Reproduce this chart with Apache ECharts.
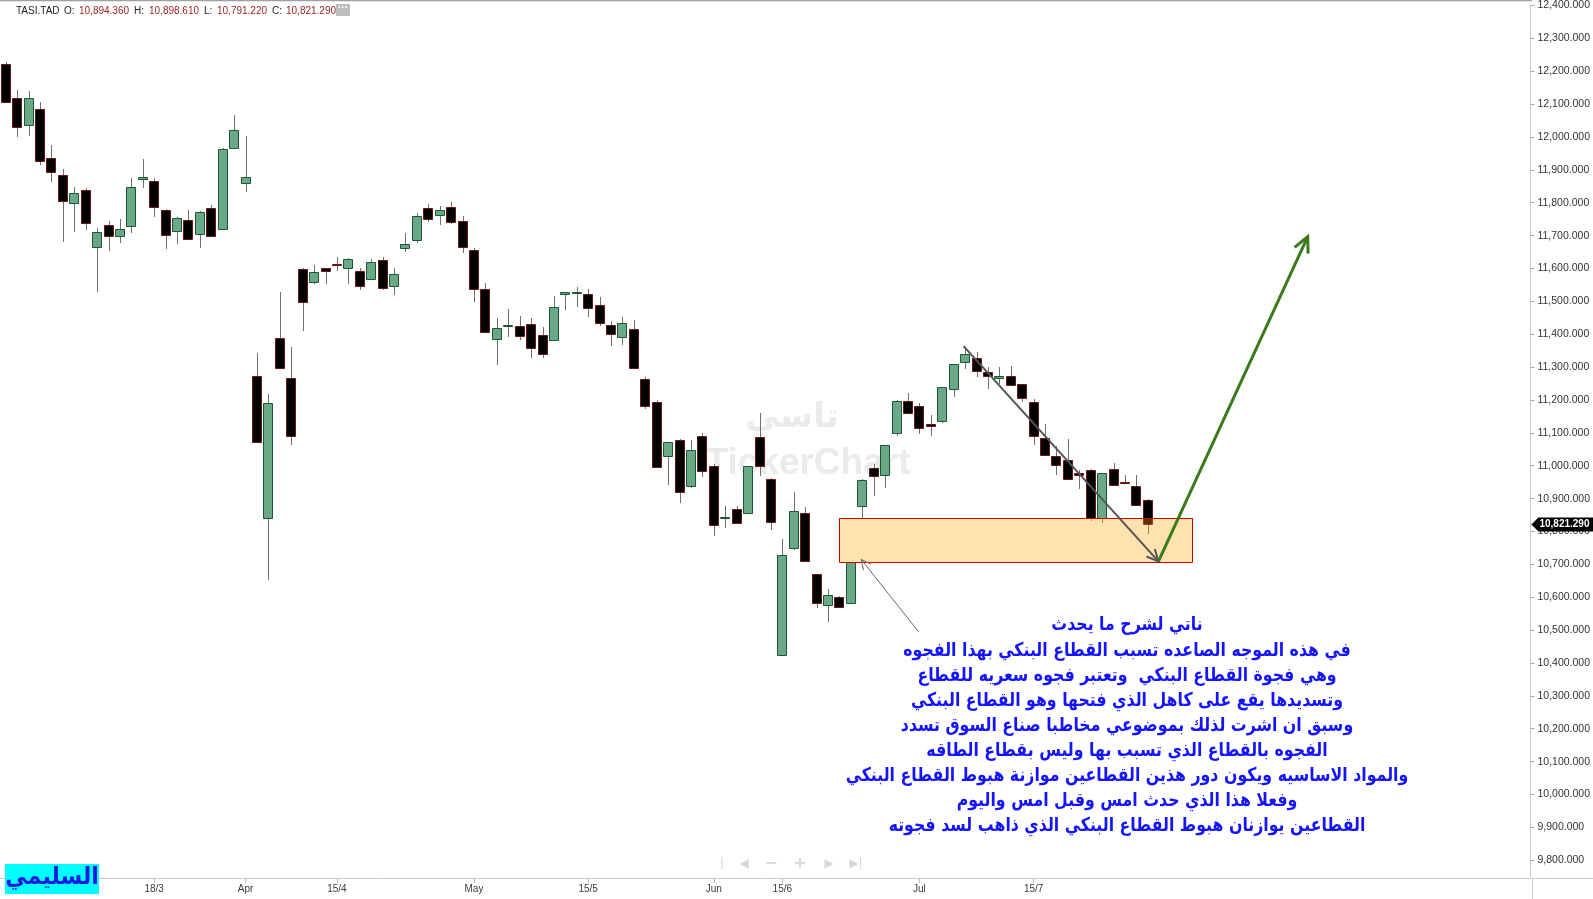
<!DOCTYPE html>
<html><head><meta charset="utf-8">
<script src="https://cdn.jsdelivr.net/npm/echarts@6/dist/echarts.min.js"></script>
<style>html,body{margin:0;padding:0;background:#fff;overflow:hidden}#c{width:1593px;height:899px}</style>
</head><body><div id="c"></div>
<script>
// ---------------- DATA ----------------
const dates = [
'2025-02-27','2025-03-02','2025-03-03','2025-03-04','2025-03-05','2025-03-06','2025-03-09','2025-03-10','2025-03-11','2025-03-12','2025-03-13','2025-03-16','2025-03-17','2025-03-18','2025-03-19','2025-03-20','2025-03-23','2025-03-24','2025-03-25','2025-03-26','2025-03-27',
'2025-04-03','2025-04-06','2025-04-07','2025-04-08','2025-04-09','2025-04-10','2025-04-13','2025-04-14','2025-04-15','2025-04-16','2025-04-17','2025-04-20','2025-04-21','2025-04-22','2025-04-23','2025-04-24','2025-04-27','2025-04-28','2025-04-29','2025-04-30',
'2025-05-01','2025-05-04','2025-05-05','2025-05-06','2025-05-07','2025-05-08','2025-05-11','2025-05-12','2025-05-13','2025-05-14','2025-05-15','2025-05-18','2025-05-19','2025-05-20','2025-05-21','2025-05-22','2025-05-25','2025-05-26','2025-05-27','2025-05-28','2025-05-29',
'2025-06-01','2025-06-02','2025-06-03','2025-06-04','2025-06-11','2025-06-12','2025-06-15','2025-06-16','2025-06-17','2025-06-18','2025-06-19','2025-06-22','2025-06-23','2025-06-24','2025-06-25','2025-06-26','2025-06-29','2025-06-30',
'2025-07-01','2025-07-02','2025-07-03','2025-07-06','2025-07-07','2025-07-08','2025-07-09','2025-07-10','2025-07-13','2025-07-14','2025-07-15','2025-07-16','2025-07-17','2025-07-20','2025-07-21','2025-07-22','2025-07-23','2025-07-24','2025-07-27','2025-07-28','2025-07-29'
];
const opens = [
12222,12119,12038,12086,11935,11884,11799,11838,11666,11733,11699,11730,11873,11866,11778,11714,11748,11705,11784,11720,11968,
11859,11273,10841,11388,11267,11597,11560,11600,11613,11600,11591,11569,11627,11548,11663,11687,11784,11763,11787,11745,
11657,11539,11385,11424,11424,11430,11397,11382,11522,11524,11521,11488,11427,11391,11415,11264,11195,11029,11077,10938,11092,
11000,10842,10869,10856,11086,10959,10425,10750,10855,10670,10576,10601,10582,10878,10992,10971,11101,11198,
11183,11126,11137,11234,11316,11328,11286,11268,11273,11249,11195,11083,11029,11017,10977,10986,10840,10989,10952,10938,10894.36
];
const highs = [
12227,12144,12141,12107,11977,11902,11847,11844,11724,11746,11751,11875,11932,11875,11781,11757,11778,11776,11793,11967,12068,
12002,11344,11219,11528,11361,11600,11612,11603,11636,11633,11603,11630,11636,11600,11708,11769,11796,11790,11802,11760,
11663,11557,11449,11476,11455,11449,11421,11515,11529,11545,11539,11512,11440,11452,11443,11270,11201,11071,11080,11077,11101,
11004,10878,10878,10999,11159,10962,10777,10920,10873,10672,10625,10603,10708,10960,11005,11064,11200,11222,
11192,11153,11241,11311,11362,11346,11301,11301,11304,11250,11204,11126,11059,11080,10986,10990,10979,11008,10971,10971,10898.61
];
const lows = [
12107,12000,12002,11914,11864,11681,11711,11718,11530,11654,11678,11708,11844,11757,11660,11675,11688,11663,11697,11718,11965,
11832,11069,10651,11296,11062,11409,11554,11554,11591,11554,11536,11567,11536,11518,11651,11678,11742,11733,11736,11648,
11497,11404,11307,11391,11382,11328,11328,11380,11473,11482,11452,11424,11364,11367,11296,11174,10993,10941,10887,10932,10965,
10787,10811,10824,10852,10970,10806,10424,10745,10708,10567,10525,10568,10580,10842,10908,10933,11089,11157,
11098,11089,11131,11210,11295,11270,11234,11250,11245,11195,11062,11030,10971,10958,10928,10832,10827,10940,10947,10879,10791.22
];
const closes = [
12107,12029,12119,11926,11893,11805,11829,11739,11712,11699,11721,11847,11877,11787,11702,11754,11690,11772,11699,11965,12020,
11878,11071,11190,11298,11092,11497,11588,11591,11610,11630,11548,11621,11542,11582,11675,11760,11751,11778,11742,11666,
11539,11406,11418,11427,11394,11359,11340,11482,11527,11527,11479,11434,11400,11434,11298,11183,10995,11071,10920,11047,10983,
10820,10845,10826,10998,10999,10830,10727,10862,10710,10582,10607,10570,10706,10958,10968,11062,11198,11159,
11116,11122,11240,11310,11340,11289,11274,11273,11246,11207,11089,11032,11002,10959,10973,10840,10977,10941,10949,10881,10821.29
];
const tickDates = ['2025-03-18','2025-04-03','2025-04-15','2025-05-01','2025-05-15','2025-06-01','2025-06-15','2025-07-01','2025-07-15'];
const tickLabels = ['18/3','Apr','15/4','May','15/5','Jun','15/6','Jul','15/7'];
const priceTicks = [9800,9900,10000,10100,10200,10300,10400,10500,10600,10700,10800,10900,11000,11100,11200,11300,11400,11500,11600,11700,11800,11900,12000,12100,12200,12300,12400];
const emptySlotsAfter = 33;           // blank trading slots to the right of the last bar
const gapZone = [[72.95, 10706], [103.9, 10840]];       // [slot, price] corners of the gap box
const downArrow = [[83.87, 11364], [100.93, 10709]];
const upArrow = [[100.93, 10709], [114.0, 11697]];
const pointerArrow = [[79.93, 10495], [74.9, 10715]];
const noteLines = [
'ناتي لشرح ما يحدث',
'في هذه الموجه الصاعده تسبب القطاع البنكي بهذا الفجوه',
'وهي فجوة القطاع البنكي  وتعتبر فجوه سعريه للقطاع',
'وتسديدها يقع على كاهل الذي فتحها وهو القطاع البنكي',
'وسبق ان اشرت لذلك بموضوعي مخاطبا صناع السوق تسدد',
'الفجوه بالقطاع الذي تسبب بها وليس بقطاع الطاقه',
'والمواد الاساسيه ويكون دور هذين القطاعين موازنة هبوط القطاع البنكي',
'وفعلا هذا الذي حدث امس وقبل امس واليوم',
'القطاعين يوازنان هبوط القطاع البنكي الذي ذاهب لسد فجوته'
];
const symbol = 'TASI.TAD';
const author = 'السليمي';

// ---------------- CHART ----------------
const fmt = v => Number(v).toLocaleString('en-US', {minimumFractionDigits: 3, maximumFractionDigits: 3});
const tickIdx = tickDates.map(d => dates.indexOf(d));
const last = dates.length - 1;
const candleData = dates.map((d, i) => [i, opens[i], closes[i], lows[i], highs[i]]);

const chart = echarts.init(document.getElementById('c'), null, {renderer: 'canvas'});

function arrowShape(api, pts, color, width, head) {
  const a = api.coord(pts[0]), b = api.coord(pts[1]);
  const ang = Math.atan2(b[1] - a[1], b[0] - a[0]);
  const s = 0.45;
  const h1 = [b[0] - head * Math.cos(ang - s), b[1] - head * Math.sin(ang - s)];
  const h2 = [b[0] - head * Math.cos(ang + s), b[1] - head * Math.sin(ang + s)];
  return [
    {type: 'line', shape: {x1: a[0], y1: a[1], x2: b[0], y2: b[1]}, style: {stroke: color, lineWidth: width}},
    {type: 'polyline', shape: {points: [h1, b, h2]}, style: {stroke: color, lineWidth: width, fill: null}}
  ];
}

const option = {
  backgroundColor: '#ffffff',
  animation: false,
  grid: {left: 0, right: 61, top: 0, bottom: 21},
  xAxis: {
    type: 'value', min: -0.5, max: last + emptySlotsAfter - 0.5 + 1,
    axisLine: {show: true, onZero: false, lineStyle: {color: '#c8c8c8', width: 1}},
    axisTick: {show: true, length: 5, lineStyle: {color: '#bbbbbb'}, customValues: tickIdx},
    axisLabel: {
      customValues: tickIdx, margin: 6, color: '#3a3a3a', fontSize: 10,
      fontFamily: '"Liberation Sans Narrow", "Liberation Sans", sans-serif',
      formatter: v => tickLabels[tickIdx.indexOf(Math.round(v))] || ''
    },
    splitLine: {show: false}
  },
  yAxis: {
    type: 'value', position: 'right', min: 9746, max: 12400, scale: true,
    axisLine: {show: true, onZero: false, lineStyle: {color: '#c8c8c8', width: 1}},
    axisTick: {show: true, length: 4, lineStyle: {color: '#aaaaaa'}, customValues: priceTicks},
    axisLabel: {customValues: priceTicks, margin: 7, color: '#333333', fontSize: 10.5,
      fontFamily: '"Liberation Sans", Arial, sans-serif', formatter: v => fmt(v)},
    splitLine: {show: false}
  },
  graphic: [
    {type: 'line', z: 1, shape: {x1: 0, y1: 0.5, x2: 1532, y2: 0.5}, style: {stroke: '#a0a0a0', lineWidth: 1.5}},
    {type: 'line', z: 1, shape: {x1: 1532, y1: 878.5, x2: 1593, y2: 878.5}, style: {stroke: '#c8c8c8', lineWidth: 1}},
    {type: 'line', z: 1, shape: {x1: 1532.5, y1: 878, x2: 1532.5, y2: 899}, style: {stroke: '#c8c8c8', lineWidth: 1}},
    // watermark
    {type: 'text', z: 0, x: 792, y: 418, style: {text: 'تاسي', fill: '#ebebeb', font: 'bold 34px "DejaVu Sans"', align: 'center', verticalAlign: 'middle'}},
    {type: 'text', z: 0, x: 808, y: 464, style: {text: 'TickerChart', fill: '#ebebeb', font: 'bold 37px "Liberation Sans", Arial', align: 'center', verticalAlign: 'middle'}},
    // header
    {type: 'text', z: 10, x: 16, y: 11, style: {text: symbol, fill: '#222', font: '10px "Liberation Sans"', verticalAlign: 'middle'}},
    {type: 'text', z: 10, x: 64, y: 11, style: {text: 'O:', fill: '#222', font: '10px "Liberation Sans"', verticalAlign: 'middle'}},
    {type: 'text', z: 10, x: 79, y: 11, style: {text: fmt(opens[last]), fill: '#9b1c1c', font: '10px "Liberation Sans"', verticalAlign: 'middle'}},
    {type: 'text', z: 10, x: 134, y: 11, style: {text: 'H:', fill: '#222', font: '10px "Liberation Sans"', verticalAlign: 'middle'}},
    {type: 'text', z: 10, x: 149, y: 11, style: {text: fmt(highs[last]), fill: '#9b1c1c', font: '10px "Liberation Sans"', verticalAlign: 'middle'}},
    {type: 'text', z: 10, x: 204, y: 11, style: {text: 'L:', fill: '#222', font: '10px "Liberation Sans"', verticalAlign: 'middle'}},
    {type: 'text', z: 10, x: 217, y: 11, style: {text: fmt(lows[last]), fill: '#9b1c1c', font: '10px "Liberation Sans"', verticalAlign: 'middle'}},
    {type: 'text', z: 10, x: 272, y: 11, style: {text: 'C:', fill: '#222', font: '10px "Liberation Sans"', verticalAlign: 'middle'}},
    {type: 'text', z: 10, x: 286, y: 11, style: {text: fmt(closes[last]), fill: '#9b1c1c', font: '10px "Liberation Sans"', verticalAlign: 'middle'}},
    {type: 'rect', z: 10, shape: {x: 336, y: 4, width: 14, height: 12}, style: {fill: '#bdbdbd'}},
    {type: 'text', z: 11, x: 343, y: 8, style: {text: '···', fill: '#fff', font: 'bold 10px "Liberation Sans"', align: 'center', verticalAlign: 'middle'}},
    // navigation controls
    {type: 'text', z: 5, x: 722, y: 864, style: {text: '|', fill: '#d8d8d8', font: '13px "DejaVu Sans"', align: 'center', verticalAlign: 'middle'}},
    {type: 'text', z: 5, x: 744, y: 864, style: {text: '◀', fill: '#d8d8d8', font: '12px "DejaVu Sans"', align: 'center', verticalAlign: 'middle'}},
    {type: 'text', z: 5, x: 771, y: 864, style: {text: '−', fill: '#d8d8d8', font: 'bold 16px "DejaVu Sans"', align: 'center', verticalAlign: 'middle'}},
    {type: 'text', z: 5, x: 800, y: 864, style: {text: '+', fill: '#d8d8d8', font: 'bold 16px "DejaVu Sans"', align: 'center', verticalAlign: 'middle'}},
    {type: 'text', z: 5, x: 829, y: 864, style: {text: '▶', fill: '#d8d8d8', font: '12px "DejaVu Sans"', align: 'center', verticalAlign: 'middle'}},
    {type: 'text', z: 5, x: 856, y: 864, style: {text: '▶|', fill: '#d8d8d8', font: '12px "DejaVu Sans"', align: 'center', verticalAlign: 'middle'}},
    // author badge
    {type: 'rect', z: 10, shape: {x: 5, y: 864, width: 94, height: 30}, style: {fill: '#00ffff'}},
    {type: 'text', z: 11, x: 52, y: 878, scaleX: 0.92, style: {text: author, fill: '#1a1ae6', font: 'bold 24px "DejaVu Sans"', align: 'center', verticalAlign: 'middle'}},
    // note text
    {type: 'text', z: 10, x: 1127, y: 613, scaleX: 0.83, style: {text: noteLines.join('\n'), fill: '#1414ff', font: 'bold 19px "DejaVu Sans"', align: 'center', verticalAlign: 'top', lineHeight: 25.1}}
  ],
  series: [
    {
      type: 'custom', name: 'candles', z: 3, clip: false,
      data: candleData,
      encode: {x: 0, y: [1, 2, 3, 4]},
      renderItem: (params, api) => {
        const i = api.value(0), o = api.value(1), c = api.value(2), l = api.value(3), h = api.value(4);
        const po = api.coord([i, o]), pc = api.coord([i, c]), pl = api.coord([i, l]), ph = api.coord([i, h]);
        const cx = Math.round(po[0]) + 0.5;
        const up = c >= o;
        const top = Math.round(Math.min(po[1], pc[1])) + 0.5;
        const bot = Math.round(Math.max(po[1], pc[1])) + 0.5;
        return {type: 'group', children: [
          {type: 'line', shape: {x1: cx, y1: Math.round(ph[1]), x2: cx, y2: Math.round(pl[1])}, style: {stroke: '#6f6f6f', lineWidth: 1}},
          {type: 'rect', shape: {x: cx - 5, y: top, width: 9, height: Math.max(bot - top, 1)},
            style: {fill: up ? '#6aa985' : '#000000', stroke: up ? '#1e5636' : '#6b1616', lineWidth: 1}}
        ]};
      }
    },
    {
      type: 'custom', name: 'gap', z: 4, clip: false, silent: true,
      data: [[0]],
      renderItem: (params, api) => {
        const a = api.coord(gapZone[0]), b = api.coord(gapZone[1]);
        const x = Math.round(a[0]) + 0.5, y = Math.round(b[1]) + 0.5;
        return {type: 'rect', shape: {x: x, y: y, width: Math.round(b[0] - a[0]), height: Math.round(a[1] - b[1])},
          style: {fill: 'rgba(255,165,0,0.32)', stroke: '#cc0000', lineWidth: 1}};
      }
    },
    {
      type: 'custom', name: 'arrows', z: 5, clip: false, silent: true,
      data: [[0]],
      renderItem: (params, api) => ({type: 'group', children: [
        ...arrowShape(api, pointerArrow, '#6a6a6a', 1, 11),
        ...arrowShape(api, downArrow, '#555555', 2, 13),
        ...arrowShape(api, upArrow, '#3b7a1c', 3, 17)
      ]})
    },
    {
      type: 'custom', name: 'lastPrice', z: 6, clip: false, silent: true,
      data: [[last, closes[last]]],
      renderItem: (params, api) => {
        const y = Math.round(api.coord([api.value(0), api.value(1)])[1]) + 0.5;
        const x0 = params.coordSys.x + params.coordSys.width;
        return {type: 'group', children: [
          {type: 'polygon', shape: {points: [[x0 + 1, y], [x0 + 8, y - 7], [1593, y - 7], [1593, y + 7], [x0 + 8, y + 7]]}, style: {fill: '#000'}},
          {type: 'text', x: x0 + 9, y: y, style: {text: fmt(api.value(1)), fill: '#fff', font: 'bold 10px "Liberation Sans"', verticalAlign: 'middle'}}
        ]};
      }
    }
  ]
};
chart.setOption(option);
</script>
</body></html>
